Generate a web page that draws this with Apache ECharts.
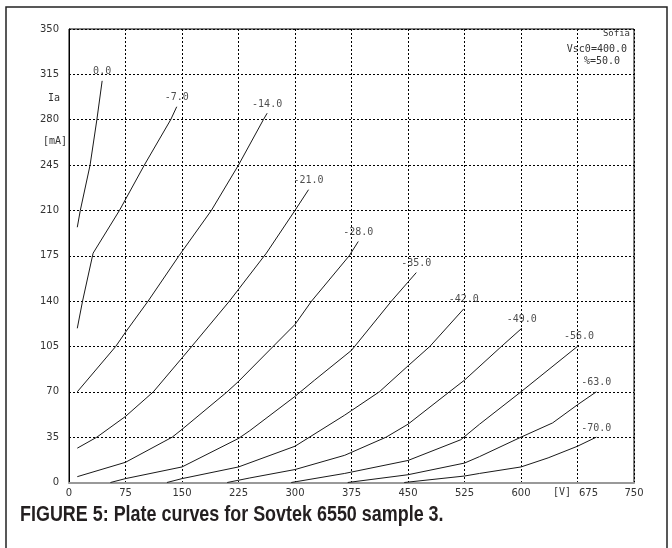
<!DOCTYPE html>
<html>
<head>
<meta charset="utf-8">
<script src="https://cdn.jsdelivr.net/npm/echarts@6/dist/echarts.min.js"></script>
<style>
  html, body { margin: 0; padding: 0; background: #fff; }
  #chart { width: 672px; height: 548px; }
</style>
</head>
<body>
<div id="chart"></div>
<script>
// grid voltage of each curve (label at the top end)
const gridVolts = ['0.0', '-7.0', '-14.0', '-21.0', '-28.0', '-35.0', '-42.0', '-49.0', '-56.0', '-63.0', '-70.0']

// plate curves: [Va (V), Ia (mA)]
const g0 = [[11, 197], [15, 210], [28, 245], [37, 280], [44, 310]]
const g7 = [[11, 119], [18, 140], [32, 177], [67, 210], [100, 245], [135, 280], [143, 290]]
const g14 = [[11, 70], [62, 105], [75, 116], [105, 140], [146, 175], [189, 210], [225, 245], [258, 280], [263, 285]]
const g21 = [[11, 26.5], [37, 35], [75, 51], [112, 70], [160, 103], [213, 140], [262, 177], [300, 210], [318, 226]]
const g28 = [[11, 4.5], [75, 15.6], [137, 35], [150, 41], [210, 70], [225, 78], [271, 105], [300, 122], [322, 140], [372, 175], [384, 186]]
const g35 = [[55, 0], [75, 3], [150, 12], [225, 34], [240, 40], [299, 66], [326, 79], [375, 102], [428, 140], [461, 162]]
const g42 = [[130, 0], [150, 3], [225, 12], [300, 28], [366, 52], [412, 70], [450, 90], [479, 105], [524, 134]]
const g49 = [[210, 0], [240, 3.5], [300, 10], [366, 21], [421, 35], [450, 45], [505, 70], [525, 79], [574, 105], [601, 119]]
const g56 = [[295, 0], [366, 7], [450, 17], [520, 33], [545, 45], [600, 70], [677, 106]]
const g63 = [[370, 0], [450, 6], [525, 15], [545, 20], [600, 35], [642, 46], [675, 60], [700, 70]]
const g70 = [[445, 0], [525, 5], [545, 7], [600, 12], [636, 19], [675, 28], [700, 35]]

const curves = [g0, g7, g14, g21, g28, g35, g42, g49, g56, g63, g70]

const mono = 'DejaVu Sans Mono'
const chart = echarts.init(document.getElementById('chart'), null, { renderer: 'canvas' })

const lineSeries = curves.map((c, i) => ({
  name: gridVolts[i],
  type: 'line',
  data: c,
  showSymbol: false,
  smooth: false,
  silent: true,
  lineStyle: { color: '#1a1a1a', width: 1 },
  z: 3
}))

// labels sit just above the last point of each curve
const labelSeries = {
  type: 'scatter',
  symbolSize: 0,
  silent: true,
  data: curves.map((c, i) => ({ name: gridVolts[i], value: c[c.length - 1] })),
  label: {
    show: true,
    position: 'top',
    distance: 4,
    formatter: p => p.name,
    fontFamily: mono,
    fontSize: 10,
    color: '#222'
  },
  z: 4
}

const option = {
  animation: false,
  backgroundColor: '#fff',
  grid: {
    left: 69, top: 29, right: 38, bottom: 65.5,
    show: true,
    borderColor: '#000',
    borderWidth: 1
  },
  xAxis: {
    type: 'value',
    min: 0, max: 750, interval: 75,
    axisLine: { show: true, lineStyle: { color: '#999', width: 2 } },
    axisTick: { show: false },
    axisLabel: {
      margin: 6, fontFamily: 'DejaVu Sans', fontSize: 10, color: '#333',
      // 675 is pushed right to make room for the [V] unit
      formatter: v => v === 675 ? '{s|675}' : String(v),
      rich: { s: { padding: [0, 0, 0, 22], fontFamily: 'DejaVu Sans', fontSize: 10, color: '#333' } }
    },
    splitLine: { show: true, lineStyle: { color: '#000', width: 1, type: [2, 2] } }
  },
  yAxis: {
    type: 'value',
    min: 0, max: 350, interval: 35,
    axisLine: { show: true, lineStyle: { color: '#000', width: 1 } },
    axisTick: { show: false },
    axisLabel: { margin: 10, fontFamily: 'DejaVu Sans', fontSize: 10, color: '#333' },
    splitLine: { show: true, lineStyle: { color: '#000', width: 1, type: [2, 2] } }
  },
  graphic: [
    // outer frame of the figure
    { type: 'rect', shape: { x: 6, y: 7, width: 661, height: 580 }, style: { fill: 'none', stroke: '#222', lineWidth: 1.5 }, z: -1 },
    { type: 'text', left: 48, top: 93, style: { text: 'Ia', font: '10px ' + mono, fill: '#333' } },
    { type: 'text', left: 43, top: 136, style: { text: '[mA]', font: '10px ' + mono, fill: '#333' } },
    { type: 'text', left: 553, top: 487, style: { text: '[V]', font: '10px ' + mono, fill: '#333' } },
    { type: 'text', right: 42, top: 29, style: { text: 'Sofia', font: '9px ' + mono, fill: '#333' } },
    { type: 'text', right: 45, top: 44, style: { text: 'Vsc0=400.0', font: '10px ' + mono, fill: '#333' } },
    { type: 'text', right: 52, top: 56, style: { text: '%=50.0', font: '10px ' + mono, fill: '#333' } },
    {
      type: 'text', x: 20, y: 504, scaleX: 0.815, originX: 0,
      style: {
        text: 'FIGURE 5: Plate curves for Sovtek 6550 sample 3.',
        font: 'bold 22px "Liberation Sans", sans-serif',
        fill: '#231f20'
      }
    }
  ],
  series: [...lineSeries, labelSeries]
}

chart.setOption(option)
</script>
</body>
</html>
